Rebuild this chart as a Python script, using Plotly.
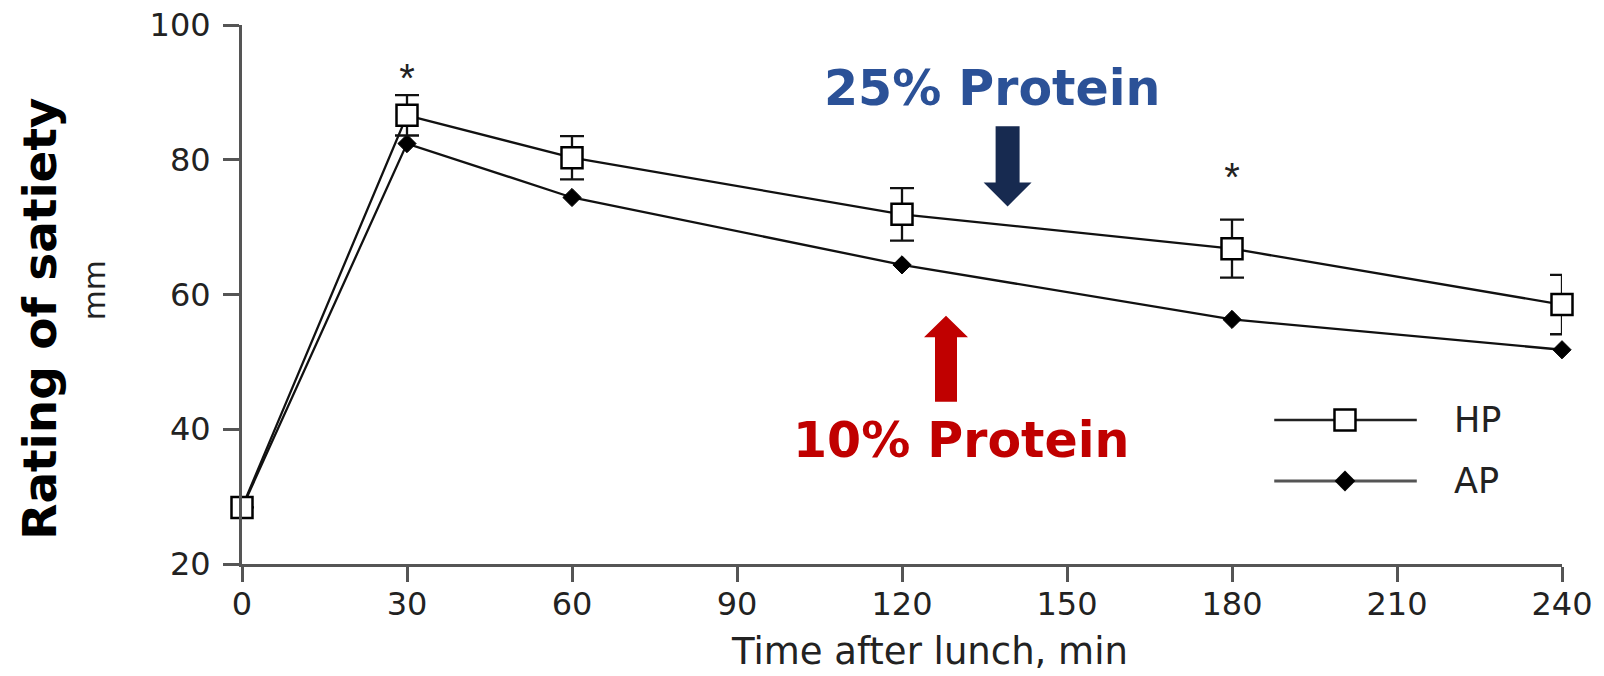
import plotly.graph_objects as go

# ---------------- data ----------------
time_min = [0, 30, 60, 120, 180, 240]
hp_satiety = [28.4, 86.6, 80.3, 71.9, 66.8, 58.5]
hp_sem = [0, 3.0, 3.2, 3.9, 4.3, 4.4]
ap_satiety = [28.3, 82.4, 74.4, 64.4, 56.3, 51.8]
sig_time = [30, 180]
sig_level = [91.6, 76.9]
x_ticks = [0, 30, 60, 90, 120, 150, 180, 210, 240]
y_ticks = [20, 40, 60, 80, 100]
series_names = ["HP", "AP"]

TICK_FONT = dict(family="DejaVu Sans", size=32, color="#222222")
AXIS_COLOR = "#555555"

fig = go.Figure()

# AP (filled diamonds)
fig.add_trace(go.Scatter(
    x=time_min, y=ap_satiety, mode="lines+markers", name=series_names[1],
    line=dict(color="#111111", width=2.3),
    marker=dict(symbol="diamond", size=14, color="#000000",
                line=dict(color="#000000", width=1)),
    cliponaxis=False, showlegend=False,
))
# HP (open squares with SEM error bars)
fig.add_trace(go.Scatter(
    x=time_min, y=hp_satiety, mode="lines+markers", name=series_names[0],
    line=dict(color="#111111", width=2.3),
    marker=dict(symbol="square", size=21, color="#ffffff",
                line=dict(color="#000000", width=2.5)),
    error_y=dict(type="data", array=hp_sem, visible=True, width=12,
                 thickness=2.3, color="#111111"),
    cliponaxis=False, showlegend=False,
))
# significance asterisks
fig.add_trace(go.Scatter(
    x=sig_time, y=sig_level, mode="text", text=["*"] * len(sig_time),
    textposition="middle center",
    textfont=dict(family="Liberation Sans, Arial, sans-serif", size=40, color="#222222"),
    cliponaxis=False, showlegend=False, hoverinfo="skip",
))

# manual legend samples on an overlay axis (0..1 plot-area fractions)
legend_rows = [0.267, 0.154]
legend_x = [0.782, 0.8356, 0.890]
fig.add_trace(go.Scatter(
    x=[legend_x[0], legend_x[2]], y=[legend_rows[0]] * 2, mode="lines", xaxis="x2", yaxis="y2",
    line=dict(color="#222222", width=2.5), showlegend=False, hoverinfo="skip",
))
fig.add_trace(go.Scatter(
    x=[legend_x[1]], y=[legend_rows[0]], mode="markers", xaxis="x2", yaxis="y2",
    marker=dict(symbol="square", size=21, color="#ffffff",
                line=dict(color="#000000", width=2.5)),
    showlegend=False, hoverinfo="skip",
))
fig.add_trace(go.Scatter(
    x=[legend_x[0], legend_x[2]], y=[legend_rows[1]] * 2, mode="lines", xaxis="x2", yaxis="y2",
    line=dict(color="#555555", width=3), showlegend=False, hoverinfo="skip",
))
fig.add_trace(go.Scatter(
    x=[legend_x[1]], y=[legend_rows[1]], mode="markers", xaxis="x2", yaxis="y2",
    marker=dict(symbol="diamond", size=16, color="#000000"),
    showlegend=False, hoverinfo="skip",
))

# ---------------- arrows (decorations) ----------------
def arrow_path(xc, y_tail, y_head_base, y_tip, shaft_half, head_half):
    return (f"M {xc-shaft_half},{y_tail} L {xc+shaft_half},{y_tail} "
            f"L {xc+shaft_half},{y_head_base} L {xc+head_half},{y_head_base} "
            f"L {xc},{y_tip} L {xc-head_half},{y_head_base} "
            f"L {xc-shaft_half},{y_head_base} Z")

shapes = [
    dict(type="path", xref="x", yref="y",
         path=arrow_path(139.2, 84.97, 76.64, 73.07, 2.18, 4.36),
         fillcolor="#172A50", line=dict(width=0)),
    dict(type="path", xref="x", yref="y",
         path=arrow_path(128.0, 44.07, 53.65, 56.86, 2.0, 4.0),
         fillcolor="#C00000", line=dict(width=0)),
]

annotations = [
    dict(x=136.4, y=90.6, xref="x", yref="y", text="<b>25% Protein</b>", showarrow=False,
         font=dict(family="DejaVu Sans", size=49, color="#2B5197"),
         xanchor="center", yanchor="middle"),
    dict(x=130.8, y=38.4, xref="x", yref="y", text="<b>10% Protein</b>", showarrow=False,
         font=dict(family="DejaVu Sans", size=49, color="#C00000"),
         xanchor="center", yanchor="middle"),
    # y axis titles
    dict(x=-0.153, y=0.455, xref="paper", yref="paper", text="<b>Rating of satiety</b>",
         showarrow=False, textangle=-90,
         font=dict(family="DejaVu Sans", size=47, color="#000000"),
         xanchor="center", yanchor="middle"),
    dict(x=-0.112, y=0.508, xref="paper", yref="paper", text="mm",
         showarrow=False, textangle=-90,
         font=dict(family="DejaVu Sans", size=31, color="#222222"),
         xanchor="center", yanchor="middle"),
    # x axis title
    dict(x=125.0, y=-0.163, xref="x", yref="paper", text="Time after lunch, min",
         showarrow=False,
         font=dict(family="DejaVu Sans", size=37, color="#222222"),
         xanchor="center", yanchor="middle"),
    # legend labels
    dict(x=0.917, y=legend_rows[0], xref="paper", yref="paper", text=series_names[0],
         showarrow=False, font=dict(family="DejaVu Sans", size=35, color="#222222"),
         xanchor="left", yanchor="middle"),
    dict(x=0.917, y=legend_rows[1], xref="paper", yref="paper", text=series_names[1],
         showarrow=False, font=dict(family="DejaVu Sans", size=35, color="#222222"),
         xanchor="left", yanchor="middle"),
]

# the page body adds an 8px offset, so the figure is 8px smaller in each direction
fig.update_layout(
    width=1596, height=668,
    margin=dict(l=234, r=42, t=17, b=112, pad=0, autoexpand=False),
    paper_bgcolor="#ffffff", plot_bgcolor="#ffffff",
    showlegend=False,
    xaxis=dict(range=[0, 240], tickvals=x_ticks, ticktext=[str(v) for v in x_ticks],
               showgrid=False, zeroline=False, showline=True, linecolor=AXIS_COLOR,
               linewidth=3, ticks="outside", ticklen=15, tickwidth=2.5, tickcolor=AXIS_COLOR,
               tickfont=TICK_FONT, ticklabelstandoff=-5, ticklabeloverflow="allow",
               automargin=False, fixedrange=True),
    yaxis=dict(range=[20, 100], tickvals=y_ticks, ticktext=[str(v) for v in y_ticks],
               showgrid=False, zeroline=False, showline=True, linecolor=AXIS_COLOR,
               linewidth=3, ticks="outside", ticklen=16, tickwidth=2.5, tickcolor=AXIS_COLOR,
               tickfont=TICK_FONT, ticklabelstandoff=6, ticklabeloverflow="allow",
               automargin=False, fixedrange=True),
    xaxis2=dict(overlaying="x", range=[0, 1], visible=False, fixedrange=True, automargin=False),
    yaxis2=dict(overlaying="y", range=[0, 1], visible=False, fixedrange=True, automargin=False),
    shapes=shapes,
    annotations=annotations,
)

fig.write_html("out.html")
